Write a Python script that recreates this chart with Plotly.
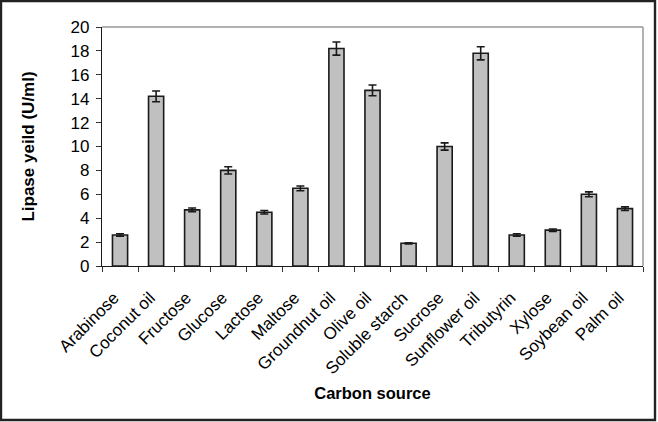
import plotly.graph_objects as go

categories = ["Arabinose", "Coconut oil", "Fructose", "Glucose", "Lactose", "Maltose",
              "Groundnut oil", "Olive oil", "Soluble starch", "Sucrose", "Sunflower oil",
              "Tributyrin", "Xylose", "Soybean oil", "Palm oil"]
lipase_yield = [2.6, 14.2, 4.7, 8.0, 4.5, 6.5, 18.2, 14.7, 1.9, 10.0, 17.8, 2.6, 3.0, 6.0, 4.8]
yield_error = [0.1, 0.45, 0.15, 0.3, 0.15, 0.2, 0.55, 0.45, 0.05, 0.3, 0.55, 0.1, 0.1, 0.2, 0.15]
y_ticks = [0, 2, 4, 6, 8, 10, 12, 14, 16, 18, 20]

FONT = "Arial, Liberation Sans, sans-serif"
W, H = 658, 422
L, R, T, B = 102, 15, 27, 156
pw, ph = W - L - R, H - T - B

def px_x(px):
    return (px - L) / pw

def px_y(py):
    return (H - B - py) / ph

fig = go.Figure(go.Bar(
    x=categories, y=lipase_yield,
    marker=dict(color="#C0C0C0", line=dict(color="#1a1a1a", width=1.6)),
    error_y=dict(type="data", array=yield_error, color="#1a1a1a", thickness=1.6, width=4),
))

fig.update_layout(
    width=W, height=H,
    margin=dict(l=L, r=R, t=T, b=B, autoexpand=False),
    paper_bgcolor="white", plot_bgcolor="white",
    bargap=0.58, showlegend=False,
    font=dict(family=FONT, size=16, color="black"),
    shapes=[
        dict(type="line", xref="paper", yref="paper", x0=0, x1=1, y0=1, y1=1,
             line=dict(color="#999999", width=1.5)),
        dict(type="line", xref="paper", yref="paper", x0=1, x1=1, y0=0, y1=1,
             line=dict(color="#999999", width=1.5)),
        dict(type="rect", xref="paper", yref="paper",
             x0=px_x(1), x1=px_x(655), y0=px_y(1), y1=px_y(420),
             line=dict(color="#222222", width=2.4)),
    ],
)
fig.update_xaxes(
    tickangle=-45, ticks="outside", ticklen=5, tickson="boundaries",
    tickcolor="#333333", showline=True, linecolor="#1a1a1a", linewidth=1.2,
    showgrid=False, automargin=False, ticklabelstandoff=14, ticklabelshift=-6,
    title=dict(text="<b>Carbon source</b>", font=dict(size=16.5), standoff=10),
    tickfont=dict(size=17),
)
fig.update_yaxes(
    range=[0, 20], tickvals=y_ticks, ticks="outside", ticklen=5,
    tickcolor="#333333", showline=True, linecolor="#1a1a1a", linewidth=1.2,
    showgrid=False, zeroline=False, automargin=False, ticklabelstandoff=3,
    title=dict(text="<b>Lipase yeild (U/ml)</b>", font=dict(size=17), standoff=31),
    tickfont=dict(size=17),
)

fig.write_html("out.html")
